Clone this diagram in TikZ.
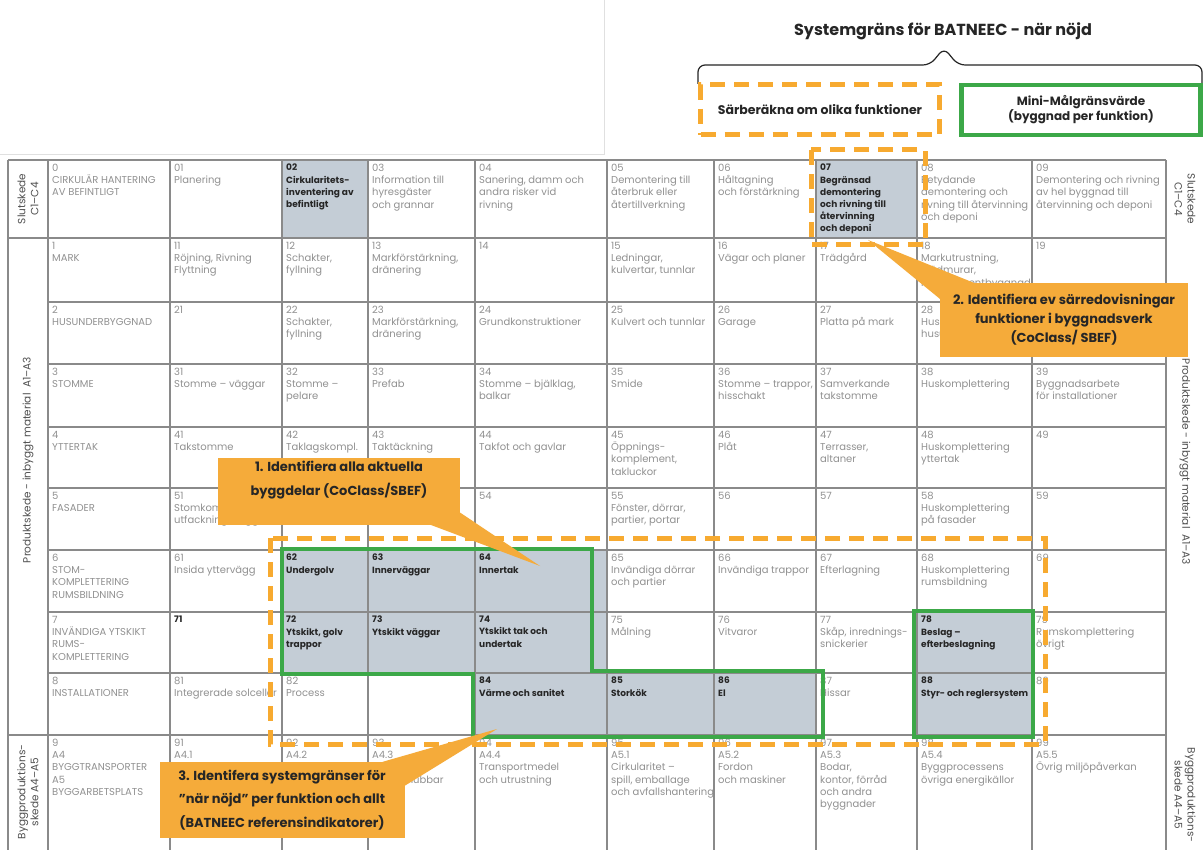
\documentclass[tikz,border=0pt]{standalone}
\usepackage{fontspec}
\setmainfont{Poppins}
\usetikzlibrary{positioning}

\definecolor{gridline}{RGB}{138,138,138}
\definecolor{cellgray}{RGB}{145,145,145}
\definecolor{celldark}{RGB}{38,38,38}
\definecolor{cellshade}{RGB}{196,205,214}
\definecolor{sidegray}{RGB}{80,80,80}
\definecolor{framegreen}{RGB}{60,168,72}
\definecolor{boundorange}{RGB}{247,170,48}
\definecolor{noteorange}{RGB}{245,171,58}

\tikzset{
  celltext/.style={anchor=north west, align=left, inner sep=0pt, text=cellgray,
    font=\fontsize{10}{12.2}\selectfont},
  cellpick/.style={celltext, text=celldark, font=\fontsize{9}{12.2}\selectfont\bfseries},
  sidetext/.style={align=center, inner sep=0pt, text=sidegray,
    font=\fontsize{10.5}{13}\selectfont},
  greenframe/.style={draw=framegreen, line width=4.5pt},
  orangebound/.style={draw=boundorange, line width=5pt, dash pattern=on 15pt off 9pt},
  stepnote/.style={fill=noteorange, text=celldark, align=center, inner sep=0pt,
    font=\fontsize{13}{24}\selectfont\bfseries},
}

\begin{document}
\begin{tikzpicture}[x=1pt,y=-1pt]
  \useasboundingbox (0,0) rectangle (1203,850);
  \fill[white] (0,0) rectangle (1203,850);
  \draw[black!12] (0,154) -- (604,154) -- (604,0);

  %%%%%%%%%%%%%%%%%%%%%%%%%%%%%%%%%%%%%%%%%%%%%%%%%%%%%%%%%%%%%%%%%%%%%%%%%%%
  %%%%  Header
  \node[text=celldark, font=\fontsize{16}{18}\selectfont\bfseries] (title) at (943,31)
    {Systemgräns för BATNEEC - när nöjd};
  \draw[celldark, line width=1.2pt, rounded corners=7pt] (698,84) -- (698,65)
    -- (930,65) -- (944,48) -- (958,65) -- (1202,65) -- (1202,84);

  \node[orangebound, minimum width=239pt, minimum height=50pt, text=celldark,
    font=\fontsize{12.5}{14}\selectfont\bfseries] (separate) at (820,110)
    {Särberäkna om olika funktioner};
  \node[greenframe, minimum width=239pt, minimum height=50pt, text=celldark, align=center,
    font=\fontsize{12}{15}\selectfont\bfseries] (minitarget) at (1081,110)
    {Mini-Målgränsvärde\\(byggnad per funktion)};

  %%%%%%%%%%%%%%%%%%%%%%%%%%%%%%%%%%%%%%%%%%%%%%%%%%%%%%%%%%%%%%%%%%%%%%%%%%%
  %%%%  Shaded cells
  \foreach \r/\c in {0/2,0/7,6/2,6/3,6/4,7/2,7/3,7/4,7/8,8/4,8/5,8/6,8/8}
   {\pgfmathsetmacro\xa{{48,170,282,368,475,607,714,816,917,1032,1166}[\c]}
    \pgfmathsetmacro\xb{{48,170,282,368,475,607,714,816,917,1032,1166}[\c+1]}
    \pgfmathsetmacro\ya{{160,238,302,364,427,488,550,612,673,735,850}[\r]}
    \pgfmathsetmacro\yb{{160,238,302,364,427,488,550,612,673,735,850}[\r+1]}
    \fill[cellshade] (\xa,\ya) rectangle (\xb,\yb);};

  %%%%%%%%%%%%%%%%%%%%%%%%%%%%%%%%%%%%%%%%%%%%%%%%%%%%%%%%%%%%%%%%%%%%%%%%%%%
  %%%%  Grid
  \foreach \x in {8,48,170,282,368,475,607,714,816,917,1032,1166}
    \draw[gridline, line width=1.3pt] (\x,160) -- (\x,850);
  \foreach \y in {302,364,427,488,550,612,673}
    \draw[gridline, line width=1.3pt] (48,\y) -- (1166,\y);
  \foreach \y in {160,238,735}
    \draw[gridline, line width=1.3pt] (8,\y) -- (1166,\y);

  %%%%%%%%%%%%%%%%%%%%%%%%%%%%%%%%%%%%%%%%%%%%%%%%%%%%%%%%%%%%%%%%%%%%%%%%%%%
  %%%%  Cell texts
  \foreach \r/\c/\txt in {
      0/0/{0\\CIRKULÄR HANTERING\\AV BEFINTLIGT}, 0/1/{01\\Planering},
      0/3/{03\\Information till\\hyresgäster\\och grannar},
      0/4/{04\\Sanering, damm och\\andra risker vid\\rivning},
      0/5/{05\\Demontering till\\återbruk eller\\återtillverkning},
      0/6/{06\\Håltagning\\och förstärkning},
      0/8/{08\\Betydande\\demontering och\\rivning till återvinning\\och deponi},
      0/9/{09\\Demontering och rivning\\av hel byggnad till\\återvinning och deponi},
      1/0/{1\\MARK}, 1/1/{11\\Röjning, Rivning\\Flyttning}, 1/2/{12\\Schakter,\\fyllning},
      1/3/{13\\Markförstärkning,\\dränering}, 1/4/{14},
      1/5/{15\\Ledningar,\\kulvertar, tunnlar}, 1/6/{16\\Vägar och planer},
      1/7/{17\\Trädgård}, 1/8/{18\\Markutrustning,\\stödmurar,\\komplementbyggnad}, 1/9/{19},
      2/0/{2\\HUSUNDERBYGGNAD}, 2/1/{21}, 2/2/{22\\Schakter,\\fyllning},
      2/3/{23\\Markförstärkning,\\dränering}, 2/4/{24\\Grundkonstruktioner},
      2/5/{25\\Kulvert och tunnlar}, 2/6/{26\\Garage}, 2/7/{27\\Platta på mark},
      2/8/{28\\Huskomplettering\\husunderbyggnad}, 2/9/{29},
      3/0/{3\\STOMME}, 3/1/{31\\Stomme – väggar}, 3/2/{32\\Stomme –\\pelare},
      3/3/{33\\Prefab}, 3/4/{34\\Stomme – bjälklag,\\balkar}, 3/5/{35\\Smide},
      3/6/{36\\Stomme – trappor,\\hisschakt}, 3/7/{37\\Samverkande\\takstomme},
      3/8/{38\\Huskomplettering}, 3/9/{39\\Byggnadsarbete\\för installationer},
      4/0/{4\\YTTERTAK}, 4/1/{41\\Takstomme}, 4/2/{42\\Taklagskompl.},
      4/3/{43\\Taktäckning}, 4/4/{44\\Takfot och gavlar},
      4/5/{45\\Öppnings-\\komplement,\\takluckor}, 4/6/{46\\Plåt},
      4/7/{47\\Terrasser,\\altaner}, 4/8/{48\\Huskomplettering\\yttertak}, 4/9/{49},
      5/0/{5\\FASADER}, 5/1/{51\\Stomkomplettering/\\utfackningsväggar}, 5/4/{54},
      5/5/{55\\Fönster, dörrar,\\partier, portar}, 5/6/{56}, 5/7/{57},
      5/8/{58\\Huskomplettering\\på fasader}, 5/9/{59},
      6/0/{6\\STOM-\\KOMPLETTERING\\RUMSBILDNING}, 6/1/{61\\Insida yttervägg},
      6/5/{65\\Invändiga dörrar\\och partier}, 6/6/{66\\Invändiga trappor},
      6/7/{67\\Efterlagning}, 6/8/{68\\Huskomplettering\\rumsbildning}, 6/9/{69},
      7/0/{7\\INVÄNDIGA YTSKIKT\\RUMS-\\KOMPLETTERING}, 7/5/{75\\Målning},
      7/6/{76\\Vitvaror}, 7/7/{77\\Skåp, inrednings-\\snickerier},
      7/9/{79\\Rumskomplettering\\övrigt},
      8/0/{8\\INSTALLATIONER}, 8/1/{81\\Integrerade solceller}, 8/2/{82\\Process},
      8/7/{87\\Hissar}, 8/9/{89},
      9/0/{9\\A4\\BYGGTRANSPORTER\\A5\\BYGGARBETSPLATS}, 9/1/{91\\A4.1\\Transport-},
      9/2/{92\\A4.2\\Produktions-}, 9/3/{93\\A4.3\\Transport-\\logistikhubbar},
      9/4/{94\\A4.4\\Transportmedel\\och utrustning},
      9/5/{95\\A5.1\\Cirkularitet –\\spill, emballage\\och avfallshantering},
      9/6/{96\\A5.2\\Fordon\\och maskiner},
      9/7/{97\\A5.3\\Bodar,\\kontor, förråd\\och andra\\byggnader},
      9/8/{98\\A5.4\\Byggprocessens\\övriga energikällor},
      9/9/{99\\A5.5\\Övrig miljöpåverkan}}
   {\pgfmathsetmacro\xa{{48,170,282,368,475,607,714,816,917,1032}[\c]}
    \pgfmathsetmacro\ya{{160,238,302,364,427,488,550,612,673,735}[\r]}
    \node[celltext] (c\r\c) at (\xa+4,\ya+4) {\txt};};

  %%%%  picked cells
  \foreach \r/\c/\txt in {
      0/2/{02\\Cirkularitets-\\inventering av\\befintligt},
      0/7/{07\\Begränsad\\demontering\\och rivning till\\återvinning\\och deponi},
      6/2/{62\\Undergolv}, 6/3/{63\\Innerväggar}, 6/4/{64\\Innertak},
      7/1/{71}, 7/2/{72\\Ytskikt, golv\\trappor}, 7/3/{73\\Ytskikt väggar},
      7/4/{74\\Ytskikt tak och\\undertak}, 7/8/{78\\Beslag –\\efterbeslagning},
      8/4/{84\\Värme och sanitet}, 8/5/{85\\Storkök}, 8/6/{86\\El},
      8/8/{88\\Styr- och reglersystem}}
   {\pgfmathsetmacro\xa{{48,170,282,368,475,607,714,816,917,1032}[\c]}
    \pgfmathsetmacro\ya{{160,238,302,364,427,488,550,612,673,735}[\r]}
    \node[cellpick] (c\r\c) at (\xa+4,\ya+4) {\txt};};

  %%%%%%%%%%%%%%%%%%%%%%%%%%%%%%%%%%%%%%%%%%%%%%%%%%%%%%%%%%%%%%%%%%%%%%%%%%%
  %%%%  Side labels
  \node[sidetext, rotate=90] (leftend) at (28,199) {Slutskede\\C1–C4};
  \node[sidetext, rotate=90] (leftprod) at (28,460) {Produktskede - inbyggt material\ \ A1–A3};
  \node[sidetext, rotate=90] (leftbuild) at (28,792) {Byggproduktions-\\skede A4–A5};
  \node[sidetext, rotate=-90] (rightend) at (1185,199) {Slutskede\\C1–C4};
  \node[sidetext, rotate=-90] (rightprod) at (1185,462) {Produktskede - inbyggt material\ \ A1–A3};
  \node[sidetext, rotate=-90] (rightbuild) at (1185,795) {Byggproduktions-\\skede A4–A5};

  %%%%%%%%%%%%%%%%%%%%%%%%%%%%%%%%%%%%%%%%%%%%%%%%%%%%%%%%%%%%%%%%%%%%%%%%%%%
  %%%%  Boundaries
  \draw[greenframe] (282,549) -- (592,549) -- (592,671) -- (823,671) -- (823,737)
    -- (473,737) -- (473,674) -- (282,674) -- cycle;
  \draw[greenframe] (914,611) rectangle (1033,737);

  \draw[orangebound] (270,538) rectangle (1045,744);
  \draw[orangebound] (811,150) rectangle (925,245);

  %%%%%%%%%%%%%%%%%%%%%%%%%%%%%%%%%%%%%%%%%%%%%%%%%%%%%%%%%%%%%%%%%%%%%%%%%%%
  %%%%  Steps
  \node[stepnote, minimum width=242pt, minimum height=67pt] (stepone) at (339,491)
    {1. Identifiera alla aktuella\\byggdelar (CoClass/SBEF)\\[2pt]};
  \coordinate (tipone) at (540,566);
  \fill[noteorange] ([xshift=-30pt]stepone.south east) -- (tipone)
    -- ([yshift=12pt]stepone.south east) -- cycle;

  \node[stepnote, minimum width=248pt, minimum height=74pt,
    font=\fontsize{13}{19}\selectfont\bfseries] (steptwo) at (1064,320)
    {2. Identifiera ev särredovisningar\\funktioner i byggnadsverk\\(CoClass/ SBEF)};
  \coordinate (tiptwo) at (868,240);
  \fill[noteorange] ([yshift=-16pt]steptwo.north west) -- (tiptwo)
    -- ([xshift=34pt]steptwo.north west) -- cycle;

  \node[stepnote, minimum width=245pt, minimum height=76pt,
    font=\fontsize{13}{23.5}\selectfont\bfseries] (stepthree) at (282,800)
    {3. Identifera systemgränser för\\"när nöjd" per funktion och allt\\(BATNEEC referensindikatorer)};
  \coordinate (tipthree) at (497,729);
  \fill[noteorange] ([xshift=-22pt]stepthree.north east) -- (tipthree)
    -- ([yshift=-24pt]stepthree.north east) -- cycle;
\end{tikzpicture}
\end{document}
